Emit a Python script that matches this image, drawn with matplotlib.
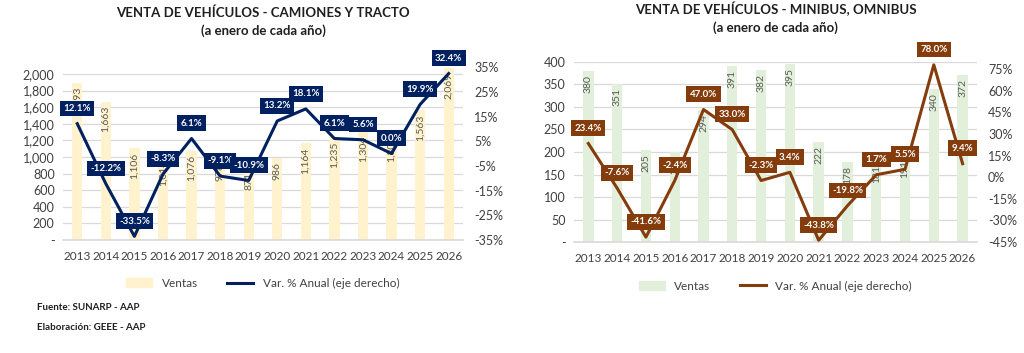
import numpy as np
import matplotlib.pyplot as plt
from matplotlib.lines import Line2D
from matplotlib.patches import Patch
import matplotlib.ticker as mticker

plt.rcParams["font.family"] = ["Lato", "DejaVu Sans"]

# ---------------------------------------------------------------
# Datos
# ---------------------------------------------------------------
anios = [str(a) for a in range(2013, 2027)]

ventas_camiones = [1893, 1663, 1106, 1014, 1076, 978, 871, 986, 1164, 1235, 1304, 1304, 1563, 2069]
var_camiones = [12.1, -12.2, -33.5, -8.3, 6.1, -9.1, -10.9, 13.2, 18.1, 6.1, 5.6, 0.0, 19.9, 32.4]

ventas_buses = [380, 351, 205, 200, 294, 391, 382, 395, 222, 178, 181, 191, 340, 372]
var_buses = [23.4, -7.6, -41.6, -2.4, 47.0, 33.0, -2.3, 3.4, -43.8, -19.8, 1.7, 5.5, 78.0, 9.4]

GRIS_TXT = "#404040"
GRIS_GRID = "#D9D9D9"


def panel(rect, ventas, var, titulo, c_bar, c_line, ylim_l, yticks_l, ylim_r, yticks_r, r_fmt):
    ax = fig.add_axes(rect)
    x = np.arange(len(anios))
    ax.bar(x, ventas, width=0.36, color=c_bar, zorder=2)
    ax.set_ylim(*ylim_l)
    ax.set_yticks(yticks_l)
    ax.yaxis.set_major_formatter(mticker.FuncFormatter(lambda v, _: "-" if v == 0 else f"{v:,.0f}"))
    ax.set_xlim(-0.5, len(anios) - 0.5)
    ax.set_xticks(x)
    ax.set_xticklabels(anios)
    ax.grid(axis="y", color=GRIS_GRID, lw=0.9, zorder=0)
    for s in ["top", "right", "left"]:
        ax.spines[s].set_visible(False)
    ax.spines["bottom"].set_color(GRIS_GRID)
    ax.spines["bottom"].set_linewidth(1.2)
    ax.tick_params(axis="both", length=0, labelsize=9, colors=GRIS_TXT, pad=6)
    ax.tick_params(axis="x", labelsize=8.5, pad=8)

    # etiquetas de barras
    for xi, v in zip(x, ventas):
        ax.annotate(f"{v:,}", (xi, v), xytext=(0, -3), textcoords="offset points",
                    rotation=90, ha="center", va="top", fontsize=7.5, color="#595959", zorder=3)

    ax2 = ax.twinx()
    ax2.plot(x, var, color=c_line, lw=2.2, zorder=4)
    ax2.set_ylim(*ylim_r)
    ax2.set_yticks(yticks_r)
    ax2.yaxis.set_major_formatter(mticker.FuncFormatter(r_fmt))
    for s in ax2.spines.values():
        s.set_visible(False)
    ax2.tick_params(axis="y", length=0, labelsize=9, colors=GRIS_TXT, pad=8)
    for xi, v in zip(x, var):
        ax2.annotate(f"{v:.1f}%", (xi, v), xytext=(0, 11), textcoords="offset points",
                     ha="center", va="center", fontsize=7, fontweight="bold", color="white",
                     bbox=dict(boxstyle="square,pad=0.35", fc=c_line, ec="none"), zorder=5)

    ax.set_title(titulo, fontsize=9.5, fontweight="bold", color="#1F1F1F", pad=22, linespacing=1.5)
    handles = [Patch(color=c_bar, label="Ventas"),
               Line2D([0], [0], color=c_line, lw=2.2, label="Var. % Anual (eje derecho)")]
    ax.legend(handles=handles, loc="upper center", bbox_to_anchor=(0.5, -0.155), ncol=2,
              frameon=False, fontsize=8.5, handlelength=2.2, columnspacing=2.5,
              labelcolor=GRIS_TXT)
    return ax


fig = plt.figure(figsize=(10.24, 3.53), dpi=100)

panel([0.0615, 0.320, 0.3906, 0.494], ventas_camiones, var_camiones,
      "VENTA DE VEHÍCULOS - CAMIONES Y TRACTO\n(a enero de cada año)",
      "#FFF2CC", "#002060", (0, 2100), range(0, 2001, 200), (-35, 35.6), range(-35, 36, 10),
      lambda v, _: f"{v:.0f}%")

panel([0.5605, 0.3144, 0.3936, 0.510], ventas_buses, var_buses,
      "VENTA DE VEHÍCULOS - MINIBUS, OMNIBUS\n(a enero de cada año)",
      "#E2EFDA", "#843C0C", (0, 400), range(0, 401, 50), (-45, 80), range(-45, 76, 15),
      lambda v, _: f"{v:.0f}%")

fig.text(0.036, 0.128, "Fuente: SUNARP - AAP", fontsize=7, fontweight="bold", color="#1F1F1F", va="center")
fig.text(0.036, 0.071, "Elaboración: GEEE - AAP", fontsize=7, fontweight="bold", color="#1F1F1F", va="center")

fig.savefig("out.png", dpi=100)
